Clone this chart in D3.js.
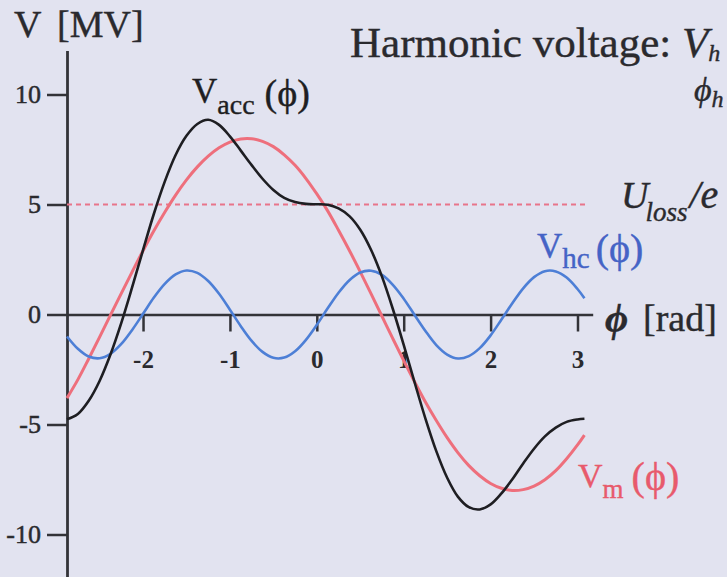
<!DOCTYPE html>
<html>
<head>
<meta charset="utf-8">
<script src="https://cdn.jsdelivr.net/npm/d3@7"></script>
<style>
  html, body { margin: 0; padding: 0; background: #e2e3f0; }
  svg { display: block; font-family: "Liberation Serif", "Times New Roman", serif; }
</style>
</head>
<body>
<svg id="chart" width="727" height="577"></svg>
<script>
// Phase samples [rad]
const phi = [-2.875, -2.75, -2.625, -2.5, -2.375, -2.25, -2.125, -2, -1.875, -1.75,
  -1.625, -1.5, -1.375, -1.25, -1.125, -1, -0.875, -0.75, -0.625, -0.5,
  -0.375, -0.25, -0.125, 0, 0.125, 0.25, 0.375, 0.5, 0.625, 0.75,
  0.875, 1, 1.125, 1.25, 1.375, 1.5, 1.625, 1.75, 1.875, 2,
  2.125, 2.25, 2.375, 2.5, 2.625, 2.75, 2.875, 3, 3.08];

// Main RF voltage [MV]
const vRf = [-3.80, -2.96, -2.01, -1.03, -0.03, 0.96, 1.94, 2.90, 3.81, 4.65,
  5.43, 6.12, 6.71, 7.20, 7.58, 7.84, 7.98, 7.99, 7.87, 7.63,
  7.26, 6.78, 6.18, 5.48, 4.71, 3.83, 2.91, 1.94, 0.94, -0.08,
  -1.10, -2.10, -3.06, -3.98, -4.82, -5.60, -6.29, -6.87, -7.33, -7.68,
  -7.90, -8.00, -7.96, -7.80, -7.51, -7.10, -6.56, -5.93, -5.48];

// Harmonic cavity voltage [MV]
const vHc = [-1.00, -1.56, -1.91, -1.99, -1.79, -1.34, -0.70, 0.03, 0.77, 1.39,
  1.82, 2.00, 1.89, 1.52, 0.94, 0.22, -0.53, -1.20, -1.70, -1.97,
  -1.96, -1.67, -1.15, -0.47, 0.28, 0.99, 1.56, 1.91, 1.99, 1.80,
  1.35, 0.72, -0.02, -0.75, -1.39, -1.82, -2.00, -1.89, -1.53, -0.95,
  -0.23, 0.51, 1.19, 1.70, 1.97, 1.96, 1.68, 1.16, 0.74];

// Total accelerating voltage [MV]
const vAcc = [-4.76, -4.52, -3.92, -3.02, -1.82, -0.38, 1.24, 2.93, 4.58, 6.04,
  7.25, 8.12, 8.66, 8.85, 8.62, 8.10, 7.45, 6.79, 6.17, 5.66,
  5.30, 5.11, 5.03, 5.01, 4.99, 4.82, 4.47, 3.85, 2.93, 1.72,
  0.25, -1.38, -3.08, -4.73, -6.21, -7.42, -8.29, -8.76, -8.86, -8.63,
  -8.13, -7.49, -6.77, -6.10, -5.54, -5.14, -4.88, -4.77, -4.74];

// Energy loss per turn divided by e [MV]
const uLoss = 5;

const xTicks = [-2, -1, 0, 1, 2, 3];
const yTicks = [10, 5, 0, -5, -10];

const svg = d3.select("#chart");

const x = d3.scaleLinear().domain([-2.875, 3.175]).range([67, 592.7]);
const y = d3.scaleLinear().domain([-12, 12]).range([578.5, 50.5]);

const AXIS = "#333338";
const INK = "#2a2a2e";

// Horizontal axis through V = 0
const gx = svg.append("g")
  .attr("transform", `translate(0,${y(0)})`)
  .call(d3.axisBottom(x).tickValues(xTicks).tickFormat(d => String(d))
    .tickSize(17).tickSizeOuter(0).tickPadding(19));
gx.select(".domain").attr("stroke", AXIS).attr("stroke-width", 2.5);
gx.selectAll(".tick line").attr("stroke", AXIS).attr("stroke-width", 2.5);
gx.selectAll(".tick text").attr("fill", INK)
  .attr("font-family", "Liberation Serif, serif").attr("font-size", 25).attr("font-weight", "bold");

// Vertical axis
const gy = svg.append("g")
  .attr("transform", `translate(${x(-2.875)},0)`)
  .call(d3.axisLeft(y).tickValues(yTicks).tickFormat(d => String(d))
    .tickSize(20).tickSizeOuter(0).tickPadding(6));
gy.select(".domain").attr("stroke", AXIS).attr("stroke-width", 2.8);
gy.selectAll(".tick line").attr("stroke", AXIS).attr("stroke-width", 2.5);
gy.selectAll(".tick text").attr("fill", INK)
  .attr("font-family", "Liberation Serif, serif").attr("font-size", 26)
  .attr("stroke", INK).attr("stroke-width", 0.5);

// U_loss/e reference level
svg.append("line")
  .attr("x1", x(-2.875)).attr("x2", 585)
  .attr("y1", y(uLoss)).attr("y2", y(uLoss))
  .attr("stroke", "#e8758a").attr("stroke-width", 2.2)
  .attr("stroke-dasharray", "5,4");

const line = (vals) => d3.line()
  .x((d, i) => x(phi[i]))
  .y(d => y(d))
  .curve(d3.curveCatmullRom.alpha(0.5))(vals);

svg.append("path").attr("d", line(vRf)).attr("fill", "none")
  .attr("stroke", "#ee6f7c").attr("stroke-width", 3);
svg.append("path").attr("d", line(vHc)).attr("fill", "none")
  .attr("stroke", "#4d7fd6").attr("stroke-width", 2.6);
svg.append("path").attr("d", line(vAcc)).attr("fill", "none")
  .attr("stroke", "#1e1e22").attr("stroke-width", 2.6);

// Text helper: parts rendered as consecutive tspans
function label(px, py, parts, fill) {
  const t = svg.append("text").attr("x", px).attr("y", py).attr("fill", fill)
    .attr("stroke", fill).attr("stroke-width", 0.4);
  parts.forEach(p => {
    const s = t.append("tspan").text(p.t).attr("font-size", p.size);
    if (p.dx) s.attr("dx", p.dx);
    if (p.dy) s.attr("dy", p.dy);
    if (p.it) s.attr("font-style", "italic");
    if (p.b) s.attr("font-weight", "bold");
  });
  return t;
}

const PHI = "\u03D5";

label(14, 37, [{t: "V", size: 38}], INK);
label(57, 37, [{t: "[MV]", size: 38}], INK);

label(350, 57, [
  {t: "Harmonic voltage: ", size: 43},
  {t: "V", size: 43, it: true},
  {t: "h", size: 24, it: true, dy: 4}
], INK);
label(694, 101, [
  {t: PHI, size: 34, it: true},
  {t: "h", size: 24, it: true, dy: 6}
], INK);

label(192, 103, [
  {t: "V", size: 35},
  {t: "acc", size: 28, dy: 11},
  {t: "(" + PHI + ")", size: 38, dx: 10, dy: -8}
], "#1e1e22");

label(621, 208, [
  {t: "U", size: 38, it: true},
  {t: "loss", size: 27, it: true, dx: -3, dy: 13},
  {t: "/e", size: 40, it: true, dx: 2, dy: -13}
], INK);

label(537, 258, [
  {t: "V", size: 35},
  {t: "hc", size: 29, dy: 10},
  {t: "(" + PHI + ")", size: 40, dx: 6, dy: -6}
], "#4563c6");

label(578, 487, [
  {t: "V", size: 34},
  {t: "m", size: 27, dy: 11},
  {t: "(" + PHI + ")", size: 40, dx: 8, dy: -8}
], "#e85a6c");

label(605, 331, [
  {t: PHI, size: 40, it: true, b: true}
], INK);
label(643, 331, [
  {t: "[rad]", size: 38}
], INK);
</script>
</body>
</html>
